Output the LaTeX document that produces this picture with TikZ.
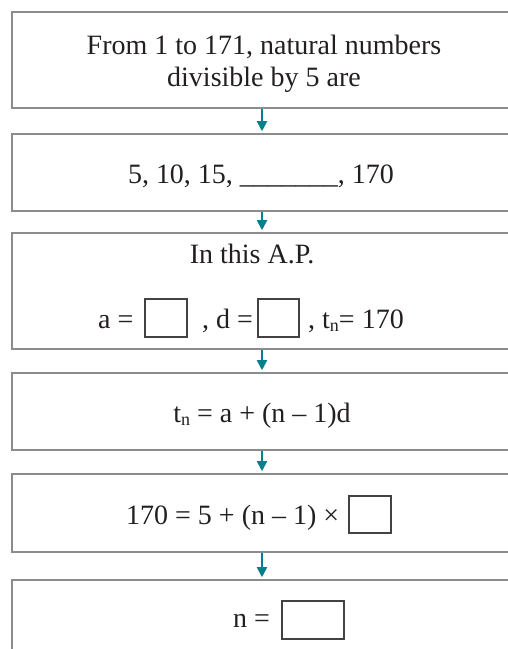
\documentclass[tikz,border=0pt]{standalone}
\usepackage{fontspec}
\setmainfont{Liberation Serif}
\usetikzlibrary{arrows.meta}
\definecolor{framegray}{RGB}{140,140,140}
\definecolor{inkc}{RGB}{35,31,32}
\definecolor{tealc}{RGB}{0,128,140}
\newcommand{\subn}{\raisebox{-0.28ex}{\fontsize{18}{18}\selectfont n}}
\tikzset{
  panel/.style={draw=framegray, line width=1.6pt, minimum width=502pt, inner sep=0pt},
  blank/.style={draw=inkc!85, line width=1.2pt, inner sep=0pt},
  txt/.style={inner sep=0pt, text=inkc, font=\fontsize{28}{32}\selectfont},
  flow/.style={draw=tealc, line width=1.8pt, -{Triangle[width=10pt,length=10pt]}, shorten >=2pt}
}
\begin{document}
\begin{tikzpicture}[x=1pt,y=-1pt]
\useasboundingbox (0,0) rectangle (508,649);
\clip (0,0) rectangle (508,649);
% boxes
\node[panel, minimum height=96pt] (b1) at (263,60) {};
\node[panel, minimum height=77pt] (b2) at (263,172.5) {};
\node[panel, minimum height=116pt] (b3) at (263,291) {};
\node[panel, minimum height=77pt] (b4) at (263,411.5) {};
\node[panel, minimum height=78pt] (b5) at (263,513) {};
\node[panel, minimum height=120pt] (b6) at (263,640) {};
% texts
\node[txt, anchor=base] (t1a) at (264,54) {From 1 to 171, natural numbers};
\node[txt, anchor=base] (t1b) at (264,86) {divisible by 5 are};
\node[txt, anchor=base] (t2) at (261,183) {5, 10, 15, \_\_\_\_\_\_\_, 170};
\node[txt, anchor=base] (t3a) at (252,263) {In this A.P.};
\node[txt, anchor=base west] (t3b) at (98,328) {a =};
\node[blank, minimum width=42pt, minimum height=38pt] (ba) at (166,318) {};
\node[txt, anchor=base west] (t3c) at (202,328) {, d =};
\node[blank, minimum width=41pt, minimum height=38pt] (bd) at (278.5,318) {};
\node[txt, anchor=base west] (t3d) at (308,328) {, t\subn= 170};
\node[txt, anchor=base] (t4) at (262,422) {t\subn\ = a + (n – 1)d};
\node[txt, anchor=base west] (t5) at (126,524) {170 = 5 + (n – 1) ×};
\node[blank, minimum width=42pt, minimum height=37pt] (bx) at (370,514.5) {};
\node[txt, anchor=base west] (t6) at (233,627) {n =};
\node[blank, minimum width=62pt, minimum height=38pt] (bn) at (313,620) {};
% arrows
\draw[flow] ([xshift=-1pt]b1.south) -- ([xshift=-1pt]b2.north);
\draw[flow] ([xshift=-1pt]b2.south) -- ([xshift=-1pt]b3.north);
\draw[flow] ([xshift=-1pt]b3.south) -- ([xshift=-1pt]b4.north);
\draw[flow] ([xshift=-1pt]b4.south) -- ([xshift=-1pt]b5.north);
\draw[flow] ([xshift=-1pt]b5.south) -- ([xshift=-1pt]b6.north);
\end{tikzpicture}
\end{document}
